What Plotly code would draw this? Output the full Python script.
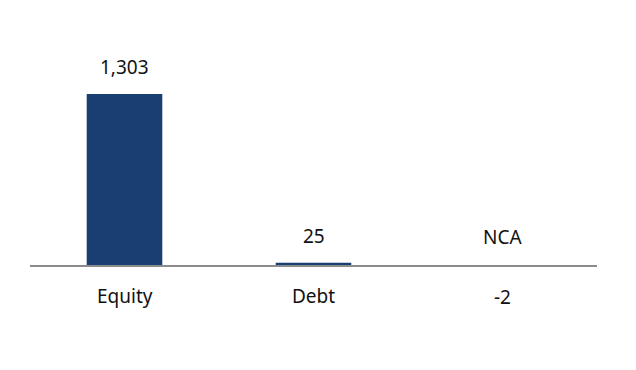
import plotly.graph_objects as go

categories = ["Equity", "Debt", "NCA"]
values = [1303, 25, -2]
value_labels = ["1,303", "25", "-2"]

BAR_COLOR = "#193e72"
FONT = dict(family="Noto Sans", size=19, color="#111111")

fig = go.Figure()
fig.add_trace(go.Bar(
    x=categories, y=values,
    marker=dict(color=BAR_COLOR, line=dict(width=0)),
    width=0.4, hoverinfo="skip",
))

annotations = []
for cat, v, lab in zip(categories, values, value_labels):
    up = v >= 0
    annotations.append(dict(
        x=cat, y=v, text=lab, showarrow=False, xref="x", yref="y",
        yanchor="middle", yshift=27 if up else -31, font=FONT))
    annotations.append(dict(
        x=cat, y=0, text=cat, showarrow=False, xref="x", yref="y",
        yanchor="middle", yshift=-30 if up else 29, font=FONT))

# category axis baseline drawn above the bars
fig.add_hline(y=0, line=dict(color="#8c8c8c", width=2.2), layer="above")

fig.update_layout(
    width=636, height=370,
    margin=dict(l=22, r=47, t=32, b=78),
    paper_bgcolor="white", plot_bgcolor="white",
    showlegend=False,
    annotations=annotations,
    xaxis=dict(showticklabels=False, showgrid=False, zeroline=False, showline=False, ticks=""),
    yaxis=dict(range=[-257.6, 1712], showticklabels=False, showgrid=False,
               zeroline=False, showline=False),
)

fig.write_html("out.html")
